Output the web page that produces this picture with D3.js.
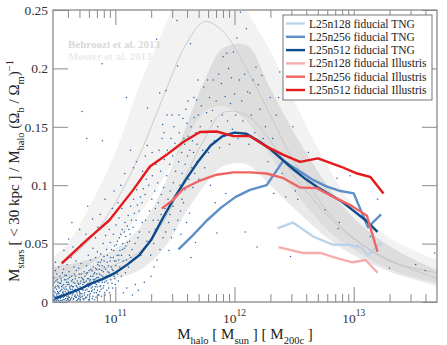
<!DOCTYPE html>
<html>
<head>
<meta charset="utf-8">
<script src="https://cdn.jsdelivr.net/npm/d3@7"></script>
<style>
  body { margin: 0; background: #fff; }
  svg { display: block; }
  text { font-family: "Liberation Serif", "Times New Roman", serif; white-space: pre; }
</style>
</head>
<body>
<div id="chart"></div>
<script>
// abundance matching bands (log10 halo mass grid)
const bandLogM     = [10.47, 10.6, 10.8, 11.0, 11.2, 11.4, 11.6, 11.75, 11.9, 12.1, 12.3, 12.5, 12.8, 13.0, 13.3, 13.7];
const behrooziLo   = [0.017, 0.022, 0.033, 0.05, 0.075, 0.105, 0.14, 0.163, 0.168, 0.155, 0.125, 0.095, 0.06, 0.045, 0.028, 0.016];
const behrooziMed  = [0.025, 0.036, 0.055, 0.085, 0.125, 0.175, 0.222, 0.24, 0.232, 0.2, 0.16, 0.12, 0.075, 0.055, 0.035, 0.025];
const behrooziHi   = [0.038, 0.05, 0.085, 0.128, 0.185, 0.232, 0.28, 0.3, 0.29, 0.25, 0.215, 0.172, 0.113, 0.083, 0.055, 0.036];
const mosterLo     = [0.012, 0.013, 0.016, 0.02, 0.027, 0.045, 0.078, 0.1, 0.116, 0.118, 0.1, 0.08, 0.053, 0.04, 0.026, 0.014];
const mosterMed    = [0.02, 0.022, 0.026, 0.032, 0.043, 0.068, 0.11, 0.14, 0.162, 0.16, 0.138, 0.108, 0.072, 0.054, 0.036, 0.02];
const mosterHi     = [0.03, 0.032, 0.037, 0.046, 0.063, 0.098, 0.152, 0.19, 0.217, 0.22, 0.183, 0.145, 0.097, 0.072, 0.048, 0.027];

// simulation medians
const tng128LogM  = [12.36, 12.49, 12.66, 12.83, 12.95, 13.06, 13.12, 13.23];
const tng128Ratio = [0.063, 0.068, 0.056, 0.049, 0.049, 0.047, 0.040, 0.051];
const tng256LogM  = [11.53, 11.65, 11.77, 11.89, 12.01, 12.13, 12.27, 12.41, 12.53, 12.65, 12.77, 12.89, 13.0, 13.12, 13.23];
const tng256Ratio = [0.045, 0.057, 0.070, 0.081, 0.090, 0.096, 0.100, 0.121, 0.113, 0.105, 0.099, 0.095, 0.093, 0.064, 0.075];
const tng512LogM  = [10.49, 10.6, 10.7, 10.8, 10.9, 11.0, 11.1, 11.2, 11.3, 11.4, 11.5, 11.6, 11.7, 11.8, 11.9, 12.0, 12.1, 12.2, 12.3, 12.4, 12.5, 12.6, 12.7, 12.8, 12.9, 13.0, 13.1, 13.2];
const tng512Ratio = [0.003, 0.007, 0.011, 0.016, 0.02, 0.025, 0.032, 0.04, 0.053, 0.072, 0.09, 0.106, 0.121, 0.134, 0.142, 0.145, 0.144, 0.138, 0.131, 0.122, 0.113, 0.105, 0.098, 0.092, 0.086, 0.078, 0.07, 0.06];
const ill128LogM  = [12.37, 12.57, 12.72, 12.83, 12.99, 13.10, 13.20];
const ill128Ratio = [0.047, 0.042, 0.042, 0.0385, 0.034, 0.036, 0.025];
const ill256LogM  = [11.39, 11.48, 11.57, 11.71, 11.85, 11.99, 12.13, 12.27, 12.41, 12.55, 12.69, 12.83, 12.97, 13.11, 13.20];
const ill256Ratio = [0.080, 0.087, 0.097, 0.104, 0.109, 0.111, 0.111, 0.110, 0.106, 0.098, 0.0975, 0.090, 0.083, 0.074, 0.043];
const ill512LogM  = [10.55, 10.76, 10.95, 11.15, 11.29, 11.43, 11.57, 11.71, 11.85, 11.99, 12.13, 12.27, 12.41, 12.55, 12.70, 12.89, 13.03, 13.14, 13.25];
const ill512Ratio = [0.033, 0.053, 0.07, 0.096, 0.116, 0.126, 0.137, 0.1455, 0.146, 0.142, 0.142, 0.133, 0.126, 0.12, 0.123, 0.116, 0.110, 0.107, 0.093];

// individual L25n512 TNG haloes [log10 M, ratio]
const tngHalos = [
[10.481,.002],[10.486,.009],[10.479,.015],[10.49,.005],[10.484,.021],[10.493,.012],[10.497,.027],[10.488,.001],
[10.503,.004],[10.507,.011],[10.501,.018],[10.511,.007],[10.498,.034],[10.514,.002],[10.509,.024],[10.517,.014],
[10.522,.008],[10.526,.001],[10.519,.017],[10.531,.005],[10.528,.012],[10.535,.022],[10.524,.030],[10.538,.003],
[10.542,.010],[10.547,.006],[10.541,.016],[10.552,.001],[10.549,.013],[10.556,.025],[10.545,.020],[10.559,.008],
[10.563,.004],[10.567,.015],[10.561,.009],[10.571,.002],[10.574,.019],[10.566,.028],[10.578,.011],[10.569,.044],
[10.582,.006],[10.587,.001],[10.585,.013],[10.591,.017],[10.594,.008],[10.589,.023],[10.598,.003],[10.596,.032],
[10.603,.010],[10.607,.005],[10.611,.015],[10.604,.020],[10.615,.001],[10.612,.026],[10.618,.012],[10.609,.054],
[10.622,.007],[10.627,.003],[10.631,.018],[10.625,.011],[10.634,.022],[10.638,.006],[10.629,.038],[10.636,.068],
[10.642,.013],[10.646,.002],[10.651,.009],[10.648,.017],[10.655,.024],[10.658,.005],[10.653,.030],[10.644,.047],
[10.662,.011],[10.667,.004],[10.671,.014],[10.664,.020],[10.675,.001],[10.678,.008],[10.673,.027],[10.669,.035],
[10.683,.006],[10.687,.016],[10.691,.003],[10.684,.012],[10.695,.021],[10.698,.009],[10.693,.029],[10.701,.062],
[10.703,.013],[10.707,.002],[10.711,.018],[10.705,.007],[10.715,.024],[10.718,.011],[10.713,.033],[10.709,.049],
[10.722,.005],[10.727,.015],[10.731,.010],[10.725,.020],[10.735,.002],[10.738,.026],[10.733,.017],[10.721,.163],
[10.742,.008],[10.747,.013],[10.751,.004],[10.745,.022],[10.755,.018],[10.758,.031],[10.753,.058],[10.76,.14],
[10.762,.011],[10.767,.006],[10.771,.016],[10.765,.025],[10.775,.002],[10.778,.020],[10.773,.040],[10.769,.082],
[10.782,.009],[10.787,.014],[10.791,.019],[10.785,.005],[10.795,.028],[10.798,.012],[10.793,.036],
[10.803,.016],[10.807,.003],[10.811,.022],[10.805,.010],[10.815,.030],[10.818,.017],[10.813,.046],[10.809,.071],
[10.822,.008],[10.827,.025],[10.831,.013],[10.825,.019],[10.835,.038],[10.838,.004],[10.833,.055],
[10.842,.015],[10.847,.021],[10.851,.010],[10.845,.028],[10.855,.034],[10.858,.018],[10.853,.064],[10.849,.043],
[10.862,.006],[10.867,.024],[10.871,.013],[10.865,.031],[10.875,.019],[10.878,.041],[10.873,.075],
[10.882,.011],[10.887,.027],[10.891,.017],[10.885,.036],[10.895,.022],[10.898,.050],[10.889,.204],[10.892,.138],
[10.903,.014],[10.907,.030],[10.911,.008],[10.905,.039],[10.915,.021],[10.918,.057],[10.913,.088],
[10.925,.018],[10.931,.034],[10.938,.026],[10.927,.045],[10.944,.012],[10.949,.062],
[10.955,.022],[10.961,.038],[10.967,.030],[10.958,.051],[10.972,.016],[10.975,.080],
[10.981,.027],[10.986,.044],[10.992,.035],[10.984,.058],[10.997,.020],[10.99,.095],
[11.004,.031],[11.009,.049],[11.015,.040],[11.007,.066],[11.019,.024],[11.022,.085],
[11.028,.036],[11.033,.055],[11.039,.044],[11.031,.072],[11.043,.028],[11.046,.100],
[11.052,.040],[11.058,.062],[11.063,.050],[11.055,.080],[11.068,.008],[11.071,.030],
[11.077,.046],[11.082,.068],[11.088,.056],[11.079,.110],[11.093,.036],[11.096,.012],
[11.102,.051],[11.108,.074],[11.113,.062],[11.105,.090],[11.118,.040],[11.092,.175],
[11.124,.058],[11.129,.082],[11.135,.070],[11.127,.130],[11.14,.045],[11.143,.006],
[11.149,.064],[11.154,.088],[11.16,.076],[11.152,.115],[11.165,.050],[11.168,.015],
[11.174,.070],[11.179,.096],[11.185,.083],[11.177,.120],[11.19,.055],[11.193,.010],
[11.199,.078],[11.204,.104],[11.21,.090],[11.202,.060],[11.215,.040],
[11.224,.085],[11.229,.112],[11.235,.097],[11.227,.068],[11.24,.045],[11.243,.017],
[11.249,.092],[11.254,.070],[11.26,.105],[11.252,.125],[11.265,.052],[11.27,.166],[11.268,.134],
[11.281,.100],[11.286,.078],[11.292,.115],[11.284,.060],[11.297,.040],[11.3,.022],
[11.306,.088],[11.311,.108],[11.317,.070],[11.309,.128],[11.322,.050],[11.325,.030],
[11.331,.095],[11.336,.080],[11.342,.118],[11.334,.062],[11.347,.225],[11.35,.036],
[11.356,.102],[11.361,.085],[11.367,.130],[11.359,.070],[11.372,.179],[11.375,.045],
[11.381,.112],[11.386,.092],[11.392,.140],[11.384,.075],[11.397,.152],[11.4,.055],
[11.406,.098],[11.411,.122],[11.417,.080],[11.409,.145],[11.422,.060],[11.425,.181],
[11.431,.108],[11.436,.130],[11.442,.088],[11.434,.160],[11.447,.068],[11.45,.044],
[11.456,.118],[11.461,.095],[11.467,.140],[11.459,.075],[11.472,.055],[11.475,.160],
[11.481,.125],[11.486,.102],[11.492,.150],[11.484,.082],[11.497,.062],[11.5,.136],
[11.506,.112],[11.511,.132],[11.517,.241],[11.509,.090],[11.522,.202],[11.525,.070],
[11.531,.120],[11.536,.145],[11.542,.100],[11.534,.160],[11.547,.078],[11.55,.058],
[11.556,.128],[11.561,.110],[11.567,.157],[11.559,.088],[11.572,.085],[11.575,.140],
[11.581,.135],[11.586,.118],[11.592,.165],[11.584,.096],[11.597,.068],[11.6,.153],
[11.606,.125],[11.611,.142],[11.617,.105],[11.609,.172],[11.622,.076],[11.625,.130],
[11.631,.221],[11.636,.150],[11.642,.115],[11.634,.038],[11.647,.138],[11.65,.098],
[11.656,.128],[11.661,.158],[11.667,.110],[11.659,.175],[11.672,.051],[11.675,.145],
[11.681,.173],[11.686,.135],[11.692,.190],[11.684,.120],[11.697,.160],[11.7,.105],
[11.712,.150],[11.721,.168],[11.733,.130],[11.742,.184],[11.75,.115],[11.758,.145],
[11.766,.162],[11.774,.190],[11.781,.128],[11.79,.175],[11.798,.100],[11.806,.155],
[11.815,.164],[11.821,.190],[11.83,.138],[11.838,.085],[11.846,.172],[11.852,.059],
[11.86,.150],[11.868,.195],[11.875,.132],[11.882,.081],[11.89,.187],[11.897,.160],
[11.905,.210],[11.912,.142],[11.92,.176],[11.928,.093],[11.935,.213],[11.942,.155],
[11.95,.200],[11.958,.135],[11.966,.170],[11.974,.192],[11.982,.148],[11.99,.214],
[12.0,.178],[12.01,.160],[12.02,.226],[12.03,.140],[12.04,.190],[12.05,.248],
[12.06,.172],[12.07,.155],[12.085,.195],[12.1,.234],[12.11,.180],[12.12,.135],
[12.09,.060],[12.13,.179],[12.14,.160],[12.155,.190],[12.17,.145],[12.18,.201],
[12.19,.047],[12.2,.186],[12.215,.165],[12.23,.194],[12.24,.140],[12.26,.150],
[12.28,.120],[12.3,.175],[12.32,.140],[12.33,.093],[12.35,.160],[12.37,.175],
[12.38,.197],[12.4,.110],
[12.43,.090],[12.47,.039],[12.48,.180],[12.49,.150],[12.51,.095],[12.53,.088],[12.62,.128],[12.76,.079],
[12.8,.050],[12.86,.106],[12.87,.063],[12.88,.068],[12.97,.108],[13.03,.048],[13.14,.056],[13.2,.088],
[13.3,.029],[13.52,.032],[13.6,.027],[13.68,.042]
];

// the crowded low-mass end of the same sample
const tngHalosLow = [
[10.474,.004],[10.477,.010],[10.483,.006],[10.487,.017],[10.492,.002],[10.495,.008],[10.499,.013],[10.505,.001],
[10.508,.006],[10.512,.019],[10.516,.009],[10.52,.003],[10.523,.013],[10.527,.007],[10.533,.016],[10.536,.009],
[10.539,.001],[10.544,.004],[10.548,.018],[10.551,.011],[10.554,.005],[10.557,.014],[10.562,.002],[10.565,.007],
[10.568,.012],[10.573,.005],[10.576,.023],[10.58,.009],[10.583,.003],[10.586,.019],[10.59,.011],[10.593,.005],
[10.597,.015],[10.6,.007],[10.602,.002],[10.606,.017],[10.61,.009],[10.614,.004],[10.617,.021],[10.62,.013],
[10.624,.002],[10.628,.009],[10.632,.014],[10.635,.004],[10.639,.011],[10.641,.019],[10.645,.007],[10.649,.013],
[10.652,.003],[10.656,.010],[10.66,.016],[10.663,.006],[10.666,.022],[10.67,.009],[10.674,.004],[10.677,.013],
[10.68,.018],[10.685,.002],[10.689,.010],[10.692,.015],[10.696,.005],[10.699,.024],[10.702,.008],[10.706,.016],
[10.71,.004],[10.714,.012],[10.717,.021],[10.72,.007],[10.724,.011],[10.728,.003],[10.732,.019],[10.736,.013],
[10.739,.006],[10.743,.017],[10.746,.003],[10.75,.010],[10.754,.014],[10.757,.024],[10.761,.004],[10.764,.015],
[10.768,.020],[10.772,.009],[10.776,.013],[10.779,.027],[10.783,.002],[10.786,.018],[10.79,.007],[10.794,.022],
[10.797,.015],[10.801,.009],[10.804,.027],[10.808,.013],[10.812,.005],[10.816,.019],[10.819,.024],[10.823,.011],
[10.826,.002],[10.83,.016],[10.834,.029],[10.837,.020],[10.841,.008],[10.844,.024],[10.848,.013],[10.852,.032],
[10.856,.006],[10.859,.021],[10.863,.017],[10.866,.028],[10.87,.009],[10.874,.034],[10.877,.014],[10.881,.023],
[10.884,.005],[10.888,.031],[10.893,.019],[10.897,.012],[10.901,.026],[10.906,.035],[10.91,.017],[10.914,.006],
[10.919,.028],[10.923,.022],[10.928,.010],[10.933,.040],[10.937,.016],[10.942,.031],[10.947,.025],[10.952,.008],
[10.957,.035],[10.962,.019],[10.968,.045],[10.973,.028],[10.978,.012],[10.983,.038],[10.989,.022],[10.994,.048],
[11.0,.015],[11.006,.035],[11.012,.026],[11.018,.052],[11.025,.018],[11.03,.040],[11.037,.030],[11.045,.058],
[11.05,.022],[11.06,.045],[11.066,.035],[11.075,.060],[11.085,.025],[11.09,.048],[11.1,.065],[11.11,.030],
[11.12,.052],[11.13,.038]
];

const yTicks = [0, 0.05, 0.1, 0.15, 0.2, 0.25];
const xMajor = [1e11, 1e12, 1e13];

const series = [
  {name: "L25n128 fiducial TNG", logM: tng128LogM, ratio: tng128Ratio, color: "#bcd4ea"},
  {name: "L25n256 fiducial TNG", logM: tng256LogM, ratio: tng256Ratio, color: "#5d8fc7"},
  {name: "L25n512 fiducial TNG", logM: tng512LogM, ratio: tng512Ratio, color: "#0d4a8a"},
  {name: "L25n128 fiducial Illustris", logM: ill128LogM, ratio: ill128Ratio, color: "#f5acac"},
  {name: "L25n256 fiducial Illustris", logM: ill256LogM, ratio: ill256Ratio, color: "#ef6464"},
  {name: "L25n512 fiducial Illustris", logM: ill512LogM, ratio: ill512Ratio, color: "#e3191c"}
];

const width = 447, height = 345;
const margin = {top: 10, right: 10, bottom: 43, left: 53};
const axisColor = "#8a8a8a";

const x = d3.scaleLog().domain([3e10, 5e13]).range([margin.left, width - margin.right]);
const y = d3.scaleLinear().domain([0, 0.25]).range([height - margin.bottom, margin.top]);
const lx = lg => x(Math.pow(10, lg));

const svg = d3.select("#chart").append("svg")
  .attr("width", width)
  .attr("height", height);

svg.append("clipPath").attr("id", "plot-clip")
  .append("rect")
  .attr("x", margin.left).attr("y", margin.top)
  .attr("width", width - margin.left - margin.right)
  .attr("height", height - margin.top - margin.bottom);

const plot = svg.append("g").attr("clip-path", "url(#plot-clip)");

// bands
function band(lo, hi, opacity) {
  const area = d3.area()
    .x((d, i) => lx(bandLogM[i]))
    .y0((d, i) => y(lo[i]))
    .y1((d, i) => y(hi[i]))
    .curve(d3.curveCatmullRom);
  plot.append("path")
    .attr("d", area(bandLogM))
    .attr("fill", "#000")
    .attr("fill-opacity", opacity);
}
band(behrooziLo, behrooziHi, 0.05);
band(mosterLo, mosterHi, 0.085);

const medLine = vals => d3.line()
  .x((d, i) => lx(bandLogM[i]))
  .y((d, i) => y(vals[i]))
  .curve(d3.curveCatmullRom)(bandLogM);

[behrooziMed, mosterMed].forEach(m => {
  plot.append("path")
    .attr("d", medLine(m))
    .attr("fill", "none")
    .attr("stroke", "#c2c2c2")
    .attr("stroke-width", 0.8);
});

// scatter
plot.append("g")
  .selectAll("circle")
  .data(tngHalos.concat(tngHalosLow))
  .join("circle")
  .attr("cx", d => lx(d[0]))
  .attr("cy", d => y(d[1]))
  .attr("r", 0.75)
  .attr("fill", "#2463a3");

// median lines
series.forEach(s => {
  const line = d3.line()
    .x((d, i) => lx(s.logM[i]))
    .y((d, i) => y(s.ratio[i]));
  plot.append("path")
    .attr("d", line(s.logM))
    .attr("fill", "none")
    .attr("stroke", s.color)
    .attr("stroke-width", 2.4)
    .attr("stroke-linejoin", "round");
});

// reference labels
plot.append("text")
  .attr("x", 68).attr("y", 48)
  .attr("font-size", 11).attr("font-weight", "bold")
  .attr("fill", "#d8d8d8")
  .text("Behroozi et al. 2013");
plot.append("text")
  .attr("x", 68).attr("y", 60)
  .attr("font-size", 11).attr("font-weight", "bold")
  .attr("fill", "#ebebeb")
  .text("Moster et al. 2013");

// axes
const xMinor = x.ticks().filter(t => !xMajor.includes(t) && t > 3e10 && t < 5e13);
const bottomY = height - margin.bottom;
const rightX = width - margin.right;

function styleAxis(g) {
  g.select(".domain").remove();
  g.selectAll(".tick line").attr("stroke", axisColor).attr("stroke-width", 1);
}

svg.append("g").attr("transform", `translate(0,${bottomY})`)
  .call(d3.axisBottom(x).tickValues(xMinor).tickSize(-8).tickFormat(""))
  .call(styleAxis);
svg.append("g").attr("transform", `translate(0,${bottomY})`)
  .call(d3.axisBottom(x).tickValues(xMajor).tickSize(-15).tickFormat(""))
  .call(styleAxis);
svg.append("g").attr("transform", `translate(0,${margin.top})`)
  .call(d3.axisTop(x).tickValues(xMinor).tickSize(-8).tickFormat(""))
  .call(styleAxis);
svg.append("g").attr("transform", `translate(0,${margin.top})`)
  .call(d3.axisTop(x).tickValues(xMajor).tickSize(-15).tickFormat(""))
  .call(styleAxis);

svg.append("g").attr("transform", `translate(${margin.left},0)`)
  .call(d3.axisLeft(y).tickValues(yTicks).tickSize(-15).tickPadding(5).tickFormat(d => String(d)))
  .call(styleAxis)
  .call(g => g.selectAll(".tick text")
    .attr("font-family", null).attr("font-size", 13.5).attr("fill", "#333"));
svg.append("g").attr("transform", `translate(${rightX},0)`)
  .call(d3.axisRight(y).tickValues(yTicks).tickSize(-15).tickFormat(""))
  .call(styleAxis);

svg.append("rect")
  .attr("x", margin.left).attr("y", margin.top)
  .attr("width", rightX - margin.left)
  .attr("height", bottomY - margin.top)
  .attr("fill", "none")
  .attr("stroke", axisColor)
  .attr("stroke-width", 1.3);

// x tick labels 10^n
const xLab = svg.append("g").attr("fill", "#333")
  .selectAll("text")
  .data(xMajor)
  .join("text")
  .attr("x", d => x(d))
  .attr("y", 323)
  .attr("text-anchor", "middle")
  .attr("font-size", 13.5);
xLab.append("tspan").text("10");
xLab.append("tspan").attr("dy", -7).attr("font-size", 9.5).text(d => Math.round(Math.log10(d)));

// rich text helper for sub/superscripts
function richText(sel, parts, size) {
  let off = 0;
  parts.forEach(([t, kind]) => {
    const target = kind === "sub" ? 0.32 * size : kind === "sup" ? -0.42 * size : 0;
    sel.append("tspan")
      .attr("dy", target - off)
      .attr("font-size", kind ? size * 0.7 : size)
      .text(t);
    off = target;
  });
}

const xTitle = svg.append("text")
  .attr("x", (margin.left + rightX) / 2)
  .attr("y", 339)
  .attr("text-anchor", "middle")
  .attr("fill", "#222");
richText(xTitle, [["M"], ["halo", "sub"], [" [ M"], ["sun", "sub"], [" ] [ M"], ["200c", "sub"], [" ]"]], 15);

const yTitle = svg.append("text")
  .attr("transform", "translate(19,171) rotate(-90)")
  .attr("text-anchor", "middle")
  .attr("fill", "#222");
richText(yTitle, [["M"], ["stars", "sub"], [" [ < 30 kpc ] / M"], ["halo", "sub"], [" (Ω"], ["b", "sub"],
  [" / Ω"], ["m", "sub"], [")"], ["−1", "sup"]], 15);

// legend
const legend = svg.append("g");
legend.append("rect")
  .attr("x", 283).attr("y", 15)
  .attr("width", 149).attr("height", 85)
  .attr("fill", "#fff")
  .attr("stroke", "#555")
  .attr("stroke-width", 0.8);
const rows = legend.selectAll("g.row")
  .data(series)
  .join("g")
  .attr("class", "row")
  .attr("transform", (d, i) => `translate(286,${23.5 + i * 13.3})`);
rows.append("line")
  .attr("x1", 0).attr("x2", 19)
  .attr("stroke", d => d.color)
  .attr("stroke-width", 2.4);
rows.append("text")
  .attr("x", 23).attr("y", 4)
  .attr("font-size", 11.5)
  .attr("fill", "#222")
  .text(d => d.name);
</script>
</body>
</html>
